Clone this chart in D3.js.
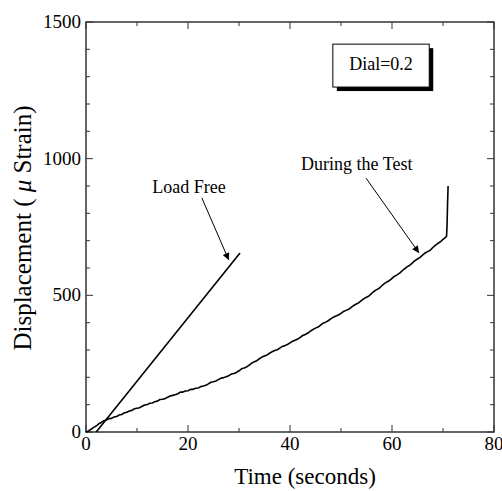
<!DOCTYPE html>
<html>
<head>
<meta charset="utf-8">
<script src="https://cdn.jsdelivr.net/npm/d3@7"></script>
<style>
  html, body { margin: 0; padding: 0; background: #fff; }
  svg { display: block; font-family: "Liberation Serif", "Times New Roman", serif; }
</style>
</head>
<body>
<div id="chart"></div>
<script>
// data
const xTicks = [0, 20, 40, 60, 80];
const yTicks = [0, 500, 1000, 1500];

const loadFree = [[2, 0], [30.2, 655]];

const duringTest = [
  [0, 0], [0.5, 4], [1, 10], [1.5, 17], [2, 22], [2.5, 30], [3, 35], [3.5, 41], [4, 44], [4.5, 49],
  [5, 50], [5.5, 55], [6, 57], [6.5, 62], [7, 64], [7.5, 70], [8, 72], [8.5, 77], [9, 79], [9.5, 85],
  [10, 87], [10.5, 89], [11, 94], [11.5, 99], [12, 100], [12.5, 105], [13, 106], [13.5, 111], [14, 113], [14.5, 119],
  [15, 120], [15.5, 122], [16, 127], [16.5, 132], [17, 134], [17.5, 136], [18, 140], [18.5, 146], [19, 146], [19.5, 150],
  [20, 151], [20.5, 156], [21, 156], [21.5, 160], [22, 161], [22.5, 166], [23, 168], [23.5, 171], [24, 176], [24.5, 182],
  [25, 184], [25.5, 187], [26, 192], [26.5, 197], [27, 199], [27.5, 202], [28, 206], [28.5, 212], [29, 214], [29.5, 218],
  [30, 224], [30.5, 231], [31, 234], [31.5, 238], [32, 245], [32.5, 252], [33, 257], [33.5, 261], [34, 268], [34.5, 274],
  [35, 278], [35.5, 282], [36, 288], [36.5, 294], [37, 298], [37.5, 301], [38, 307], [38.5, 313], [39, 316], [39.5, 320],
  [40, 326], [40.5, 332], [41, 336], [41.5, 340], [42, 346], [42.5, 353], [43, 357], [43.5, 362], [44, 369], [44.5, 375],
  [45, 380], [45.5, 384], [46, 391], [46.5, 398], [47, 402], [47.5, 407], [48, 414], [48.5, 420], [49, 424], [49.5, 428],
  [50, 434], [50.5, 441], [51, 445], [51.5, 449], [52, 456], [52.5, 463], [53, 468], [53.5, 473], [54, 481], [54.5, 488],
  [55, 493], [55.5, 498], [56, 507], [56.5, 515], [57, 521], [57.5, 526], [58, 535], [58.5, 543], [59, 549], [59.5, 554],
  [60, 562], [60.5, 570], [61, 575], [61.5, 581], [62, 590], [62.5, 598], [63, 605], [63.5, 610], [64, 619], [64.5, 627],
  [65, 633], [65.5, 639], [66, 647], [66.5, 655], [67, 660], [67.5, 665], [68, 675], [68.5, 683], [69, 690], [69.5, 696],
  [70, 705], [70.5, 712], [70.7, 716], [70.8, 760], [70.9, 840], [71, 900]
];

// annotations: text anchor point, arrow start, arrow tip (data units)
const notes = [
  { label: "Load Free", at: [20.2, 874], from: [22.7, 857], to: [28, 629] },
  { label: "During the Test", at: [53.1, 959], from: [54.9, 929], to: [65.3, 655] }
];
const dialLabel = "Dial=0.2";
const dialBox = [[48.4, 1419], [67.3, 1262]];

const width = 502, height = 491;
const margin = { top: 22, right: 8, bottom: 59, left: 86 };

const svg = d3.select("#chart").append("svg")
  .attr("width", width)
  .attr("height", height);

const defs = svg.append("defs");
defs.append("marker")
  .attr("id", "head")
  .attr("viewBox", "0 0 10 10")
  .attr("refX", 10)
  .attr("refY", 5)
  .attr("markerWidth", 10)
  .attr("markerHeight", 7)
  .attr("markerUnits", "userSpaceOnUse")
  .attr("orient", "auto")
  .append("path")
  .attr("d", "M0,0 L10,5 L0,10 Z")
  .attr("fill", "#000");

const x = d3.scaleLinear().domain([0, 80]).range([margin.left, width - margin.right]);
const y = d3.scaleLinear().domain([0, 1500]).range([height - margin.bottom, margin.top]);

const frameColor = "#333";

// ticks on all four sides, pointing inward
const xMinor = d3.range(0, 81, 10);
const yMinor = d3.range(0, 1501, 100);
const ticks = svg.append("g").attr("stroke", frameColor).attr("stroke-width", 1);
xMinor.forEach((v) => {
  const len = v % 20 === 0 ? 7 : 4;
  ticks.append("line").attr("x1", x(v)).attr("x2", x(v)).attr("y1", y(0)).attr("y2", y(0) - len);
  ticks.append("line").attr("x1", x(v)).attr("x2", x(v)).attr("y1", y(1500)).attr("y2", y(1500) + len);
});
yMinor.forEach((v) => {
  const len = v % 500 === 0 ? 7 : 4;
  ticks.append("line").attr("y1", y(v)).attr("y2", y(v)).attr("x1", x(0)).attr("x2", x(0) + len);
  ticks.append("line").attr("y1", y(v)).attr("y2", y(v)).attr("x1", x(80)).attr("x2", x(80) - len);
});

svg.append("rect")
  .attr("x", x(0)).attr("y", y(1500))
  .attr("width", x(80) - x(0)).attr("height", y(0) - y(1500))
  .attr("fill", "none")
  .attr("stroke", frameColor)
  .attr("stroke-width", 1.5);

// tick labels
svg.append("g").selectAll("text").data(xTicks).join("text")
  .attr("x", (d) => x(d)).attr("y", 450)
  .attr("text-anchor", "middle")
  .attr("font-size", 19)
  .text((d) => d);

svg.append("g").selectAll("text").data(yTicks).join("text")
  .attr("x", x(0) - 5).attr("y", (d) => y(d) + 6)
  .attr("text-anchor", "end")
  .attr("font-size", 19)
  .text((d) => d);

// axis titles
svg.append("text")
  .attr("x", 305).attr("y", 484)
  .attr("text-anchor", "middle")
  .attr("font-size", 23)
  .text("Time (seconds)");

const yt = svg.append("text")
  .attr("transform", "translate(31,228) rotate(-90)")
  .attr("text-anchor", "middle")
  .attr("font-size", 25);
yt.append("tspan").text("Displacement ( ");
yt.append("tspan").attr("font-style", "italic").text("μ");
yt.append("tspan").text(" Strain)");

// series
const line = d3.line().x((d) => x(d[0])).y((d) => y(d[1]));

svg.append("path").datum(loadFree)
  .attr("d", line)
  .attr("fill", "none").attr("stroke", "#000").attr("stroke-width", 1.6);

svg.append("path").datum(duringTest)
  .attr("d", line)
  .attr("fill", "none").attr("stroke", "#000").attr("stroke-width", 1.6)
  .attr("stroke-linejoin", "round");

// annotations
notes.forEach((n) => {
  svg.append("text")
    .attr("x", x(n.at[0])).attr("y", y(n.at[1]))
    .attr("text-anchor", "middle")
    .attr("font-size", 18)
    .text(n.label);
  svg.append("line")
    .attr("x1", x(n.from[0])).attr("y1", y(n.from[1]))
    .attr("x2", x(n.to[0])).attr("y2", y(n.to[1]))
    .attr("stroke", "#000").attr("stroke-width", 1)
    .attr("marker-end", "url(#head)");
});

// dial box with drop shadow
const bx = x(dialBox[0][0]), by = y(dialBox[0][1]);
const bw = x(dialBox[1][0]) - bx, bh = y(dialBox[1][1]) - by;
svg.append("rect")
  .attr("x", bx + 4).attr("y", by + 4).attr("width", bw).attr("height", bh)
  .attr("fill", "#000");
svg.append("rect")
  .attr("x", bx).attr("y", by).attr("width", bw).attr("height", bh)
  .attr("fill", "#fff").attr("stroke", "#000").attr("stroke-width", 1);
svg.append("text")
  .attr("x", bx + bw / 2).attr("y", by + 26)
  .attr("text-anchor", "middle")
  .attr("font-size", 18)
  .text(dialLabel);
</script>
</body>
</html>
